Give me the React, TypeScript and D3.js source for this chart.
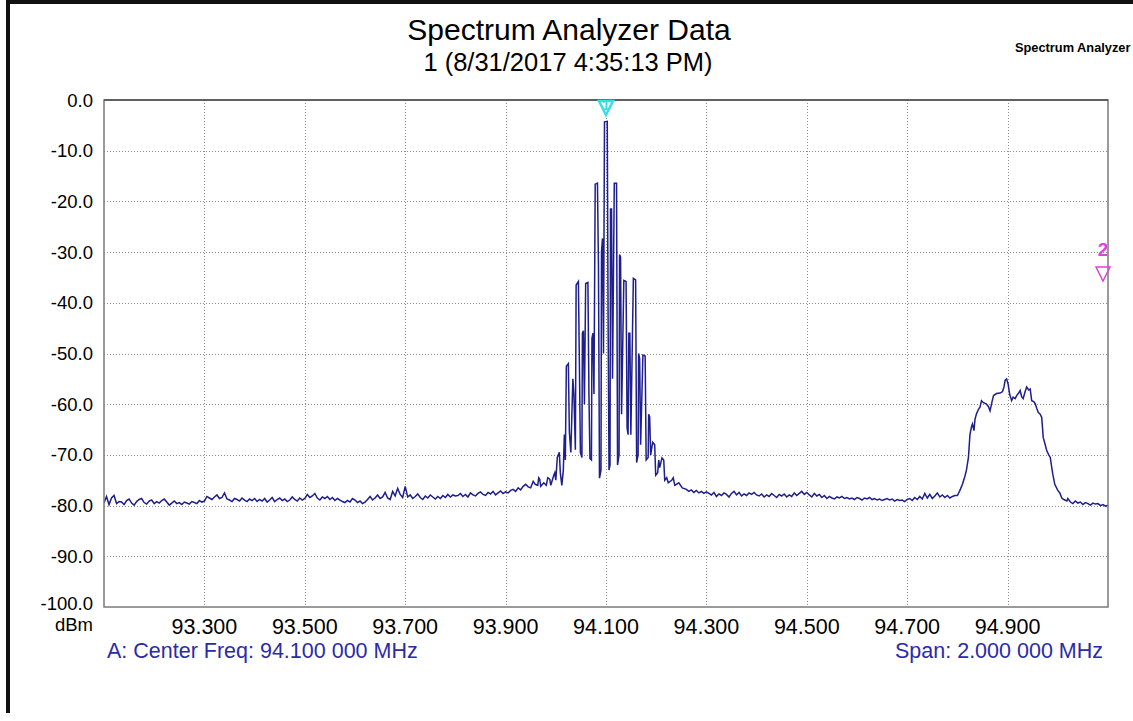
import React from "react";
import * as d3 from "d3";

// analyzer settings
const centerMHz = 94.1;
const spanStart = 93.1;
const spanEnd = 95.1;
const binMHz = 0.005;

const yTicks = [0, -10, -20, -30, -40, -50, -60, -70, -80, -90, -100];
const xTicks = [93.3, 93.5, 93.7, 93.9, 94.1, 94.3, 94.5, 94.7, 94.9];

// noise floor, 5 kHz bins from 93.100 MHz
const floorLeft = [
  -79.5, -78.2, -79.8, -78.5, -78.0, -79.6, -79.2,
  -79.3, -79.8, -79.0, -78.7, -79.5, -79.9, -79.2, -78.8, -78.6, -79.4, -79.7, -79.1, -78.9, -79.6,
  -79.2, -79.5, -79.0, -78.7, -79.3, -79.9, -79.5, -79.1, -79.6, -79.4, -79.8, -79.3, -79.5, -79.7, -79.2, -79.4, -79.6, -79.0, -79.3, -79.1,
  -78.2, -78.5, -78.8, -78.3, -77.9, -78.6, -78.4, -77.5, -78.7, -78.9, -79.2, -78.6, -78.8, -79.1, -78.5, -78.9, -79.2, -78.7, -79.0, -78.6,
  -79.2, -78.8, -79.1, -78.6, -79.3, -78.9, -78.4, -79.2, -78.8, -78.5, -79.0, -78.7, -79.2, -78.9, -78.3, -78.8, -79.1, -78.5, -78.9, -78.6,
  -77.8, -78.4, -78.1, -77.6, -78.5, -78.9, -78.3, -78.6, -78.2, -78.8, -78.4, -79.0, -78.6, -78.9, -79.2, -79.4, -79.0, -79.3, -78.6, -78.9,
  -79.4, -79.1, -79.6, -79.3, -78.8, -78.2, -78.9, -78.5, -77.9, -78.6, -78.3, -77.4, -78.5, -78.8, -77.2, -78.1, -76.6, -77.8, -78.4, -76.2,
  -78.3, -77.9, -78.6, -78.2, -77.7, -78.4, -78.8, -78.1, -78.5, -77.9, -78.3, -78.7, -78.2, -78.6, -78.0, -78.4, -77.8, -78.3, -77.9, -78.1,
  -78.0, -77.6, -78.2, -77.8, -78.3, -77.5, -77.9, -78.1, -77.6, -77.3, -77.8, -78.0, -77.4, -77.7, -77.2, -77.9, -77.5, -77.1, -77.6, -77.3,
  -77.5, -77.0, -76.8, -77.2, -76.5, -76.9, -76.2, -75.8, -76.3,
];

// FM carrier comb, [offset from center kHz, dBm]
const comb = [
  [-150, -76.5], [-145, -75.2], [-141, -75.8], [-136, -76.0], [-134, -74.5], [-132, -74.8], [-130, -76.2],
  [-124, -75.5], [-119, -76.0], [-116, -74.5], [-112, -74.8], [-110, -76.0], [-104, -74.0], [-102, -73.5],
  [-100, -75.0], [-97, -70.5], [-93, -69.5], [-91, -73.5], [-88, -76.0], [-85, -73.0], [-83, -66.0],
  [-81, -71.0], [-79, -52.5], [-75, -52.0], [-73, -65.5], [-70, -69.5], [-68, -62.0], [-66, -55.0],
  [-64, -58.0], [-61, -69.0], [-59.5, -36.5], [-55, -35.8], [-53, -52.0], [-51, -69.5], [-48, -70.5],
  [-47, -46.0], [-45, -45.5], [-43, -60.0], [-40.5, -36.2], [-36, -36.0], [-34, -58.0], [-32, -70.7],
  [-29, -71.0], [-28, -47.0], [-26, -46.0], [-24, -58.0], [-21.5, -16.6], [-17, -16.4], [-15, -33.0],
  [-13, -74.6], [-10, -73.0], [-9, -30.0], [-7, -27.3], [-5, -50.0], [-3, -4.3], [2.5, -4.2],
  [4, -40.0], [6, -73.0], [8, -72.0], [9, -21.5], [11, -21.5], [13, -55.0], [16.5, -16.4], [21, -16.4],
  [23, -72.0], [26, -70.0], [27, -30.5], [29, -31.0], [31, -62.0], [35.5, -35.6], [40, -35.8],
  [42, -64.7], [44, -66.0], [45.5, -46.0], [47.5, -46.0], [49.5, -66.0], [54.5, -35.2], [59, -35.5],
  [61, -71.5], [64, -70.0], [65, -50.0], [67, -51.0], [69, -68.0], [73.5, -50.3], [78, -50.5],
  [80, -71.0], [84, -70.5], [85, -62.0], [87, -62.5], [89, -70.0], [93, -67.5], [97, -68.0],
  [99, -74.0], [103, -73.5], [105, -71.0], [107, -72.5], [111.5, -70.6], [115, -71.0], [117, -75.0],
  [121, -74.5], [124, -75.5], [131, -75.0], [134, -74.5], [137, -76.0], [145, -75.5], [152, -76.5],
];

// noise floor, 5 kHz bins from 94.260 MHz
const floorMid = [
  -76.8, -77.2, -76.9, -77.4, -77.0, -77.5, -77.2, -77.6, -77.3,
  -77.6, -77.9, -77.4, -78.2, -77.7, -78.0, -77.5, -77.8, -78.3, -77.6, -77.2, -77.9, -77.4, -78.1, -77.7, -78.0, -77.5, -77.8, -77.4, -77.9,
  -78.1, -77.7, -78.3, -77.9, -78.2, -77.6, -78.0, -78.4, -77.8, -78.1, -77.7, -78.3, -77.9, -78.2, -77.5, -78.0, -77.6, -77.2, -77.8, -77.4,
  -77.9, -78.3, -77.6, -78.1, -77.8, -78.4, -78.0, -78.6, -78.2, -78.5, -78.7, -78.3, -78.5, -78.2, -78.6, -78.4, -78.7, -78.5, -78.8, -78.4,
  -78.6, -78.9, -78.5, -78.7, -78.4, -78.8, -78.6, -78.9, -78.7, -79.0, -78.8, -78.6, -78.9, -78.7, -79.1, -78.8, -79.0, -78.9, -79.2, -78.8,
  -78.6, -79.0, -78.4, -78.8, -78.2, -78.7, -77.6, -78.5, -77.8, -78.6, -78.1, -77.5, -78.3, -77.9, -78.4, -78.0, -78.5, -78.2, -78.0,
];

// adjacent channel at 94.9 MHz, [MHz, dBm]
const hump = [
  [94.8, -78.0], [94.805, -77.0], [94.81, -75.8], [94.815, -74.2], [94.818, -73.0], [94.822, -70.5],
  [94.825, -66.0], [94.828, -64.5], [94.83, -63.9], [94.833, -65.2], [94.835, -63.0], [94.838, -61.9],
  [94.842, -61.0], [94.845, -60.6], [94.848, -59.3], [94.852, -59.7], [94.858, -60.0], [94.862, -60.5],
  [94.865, -61.3], [94.869, -59.5], [94.872, -58.3], [94.878, -57.9], [94.885, -57.8], [94.89, -57.5],
  [94.893, -56.5], [94.895, -55.3], [94.898, -55.0], [94.901, -56.0], [94.904, -58.0], [94.908, -59.3],
  [94.911, -58.6], [94.915, -58.9], [94.918, -58.3], [94.922, -57.8], [94.925, -57.3], [94.928, -58.5],
  [94.931, -58.9], [94.935, -57.5], [94.938, -56.6], [94.942, -57.2], [94.945, -57.0], [94.948, -59.3],
  [94.952, -59.5], [94.955, -59.9], [94.958, -60.8], [94.961, -61.6], [94.965, -62.0], [94.968, -62.6],
  [94.971, -66.6], [94.975, -68.0], [94.978, -69.2], [94.982, -70.0], [94.985, -70.5], [94.988, -72.5],
  [94.99, -73.8], [94.994, -75.8], [95.0, -77.0], [95.004, -77.5], [95.008, -78.5], [95.012, -78.8],
  [95.018, -79.1],
];

// noise floor, 5 kHz bins from 95.020 MHz
const floorRight = [
  -78.6, -79.3, -79.6, -79.1, -79.5, -79.3, -79.8, -79.4, -79.6, -79.9, -79.5, -79.7, -79.6, -80.0, -79.8, -80.1, -79.9,
];

const markers = [
  { id: "1", freq: 94.1, color: "#35dfe6" },
  { id: "2", freq: 95.1, color: "#dd44dd" },
];

const W = 1133;
const H = 721;
const plot = { left: 104, right: 1108, top: 100, bottom: 607 };
const font = "Arial, 'Liberation Sans', sans-serif";
const blue = "#2b2ba8";

const App = () => {
  const x = d3.scaleLinear().domain([spanStart, spanEnd]).range([plot.left, plot.right]);
  const y = d3.scaleLinear().domain([-100, 0]).range([plot.bottom, plot.top]);

  const pts: [number, number][] = [
    ...floorLeft.map((v, i) => [spanStart + i * binMHz, v] as [number, number]),
    ...comb.map(([k, v]) => [centerMHz + k / 1000, v] as [number, number]),
    ...floorMid.map((v, i) => [94.26 + i * binMHz, v] as [number, number]),
    ...hump.map(([f, v]) => [f, v] as [number, number]),
    ...floorRight.map((v, i) => [95.02 + i * binMHz, v] as [number, number]),
  ];
  const line = d3
    .line<[number, number]>()
    .x(d => x(d[0]))
    .y(d => y(d[1]));

  const m1 = x(markers[0].freq);
  const m2 = x(markers[1].freq) - 5;

  return (
    <svg width={W} height={H} style={{ position: "absolute", left: 0, top: 0, background: "#fff" }} fontFamily={font}>
      <rect x={0} y={0} width={W} height={H} fill="#fff" />
      {/* window border */}
      <rect x={6} y={0} width={W} height={4} fill="#111" />
      <rect x={6} y={0} width={4} height={713} fill="#111" />

      <text x={569} y={40} textAnchor="middle" fontSize={30}>Spectrum Analyzer Data</text>
      <text x={568} y={71} textAnchor="middle" fontSize={25.5}>1 (8/31/2017 4:35:13 PM)</text>
      <text x={1015} y={52} fontSize={12.8} fontWeight="bold">Spectrum Analyzer</text>

      {/* grid */}
      <g stroke="#8c8c8c" strokeWidth={1} strokeDasharray="1 2">
        {yTicks.slice(1, -1).map(t => (
          <line key={t} x1={plot.left} x2={plot.right} y1={Math.round(y(t)) + 0.5} y2={Math.round(y(t)) + 0.5} />
        ))}
        {xTicks.map(t => (
          <line key={t} x1={Math.round(x(t)) + 0.5} x2={Math.round(x(t)) + 0.5} y1={plot.top} y2={plot.bottom} />
        ))}
      </g>

      <defs>
        <clipPath id="plotClip">
          <rect x={plot.left} y={plot.top} width={plot.right - plot.left} height={plot.bottom - plot.top} />
        </clipPath>
      </defs>
      <path d={line(pts) || ""} fill="none" stroke="#1e1e8c" strokeWidth={1.5} clipPath="url(#plotClip)" />

      {/* frame */}
      <rect x={plot.left} y={plot.top} width={plot.right - plot.left} height={plot.bottom - plot.top}
        fill="none" stroke="#7a7a7a" strokeWidth={1.5} />
      <line x1={plot.left} x2={plot.right} y1={plot.top} y2={plot.top} stroke="#606060" strokeWidth={2} />

      {/* y axis labels */}
      {yTicks.map(t => (
        <text key={t} x={93} y={(t === -100 ? y(t) - 4 : y(t)) + 6.5} textAnchor="end" fontSize={18.5}>
          {t.toFixed(1)}
        </text>
      ))}
      <text x={93} y={631} textAnchor="end" fontSize={18.5}>dBm</text>

      {/* x axis labels */}
      {xTicks.map(t => (
        <text key={t} x={x(t)} y={634} textAnchor="middle" fontSize={21.5}>{t.toFixed(3)}</text>
      ))}

      <text x={107} y={658} fontSize={21.5} fill={blue}>A: Center Freq: 94.100 000 MHz</text>
      <text x={1103} y={658} textAnchor="end" fontSize={21.5} fill={blue}>Span: 2.000 000 MHz</text>

      {/* marker 1 */}
      <g>
        <path d={`M${m1 - 7},${plot.top + 1} L${m1 + 7},${plot.top + 1} L${m1},${plot.top + 15} Z`}
          fill="none" stroke={markers[0].color} strokeWidth={2.5} />
        <text x={m1} y={plot.top + 10} textAnchor="middle" fontSize={14} fontWeight="bold" fill={markers[0].color}>
          {markers[0].id}
        </text>
      </g>
      {/* marker 2 */}
      <g>
        <text x={m2} y={256} textAnchor="middle" fontSize={19} fontWeight="bold" fill={markers[1].color}>
          {markers[1].id}
        </text>
        <path d={`M${m2 - 7},${267} L${m2 + 7},${267} L${m2},${281} Z`}
          fill="none" stroke={markers[1].color} strokeWidth={1.5} />
      </g>
    </svg>
  );
};

export default App;
